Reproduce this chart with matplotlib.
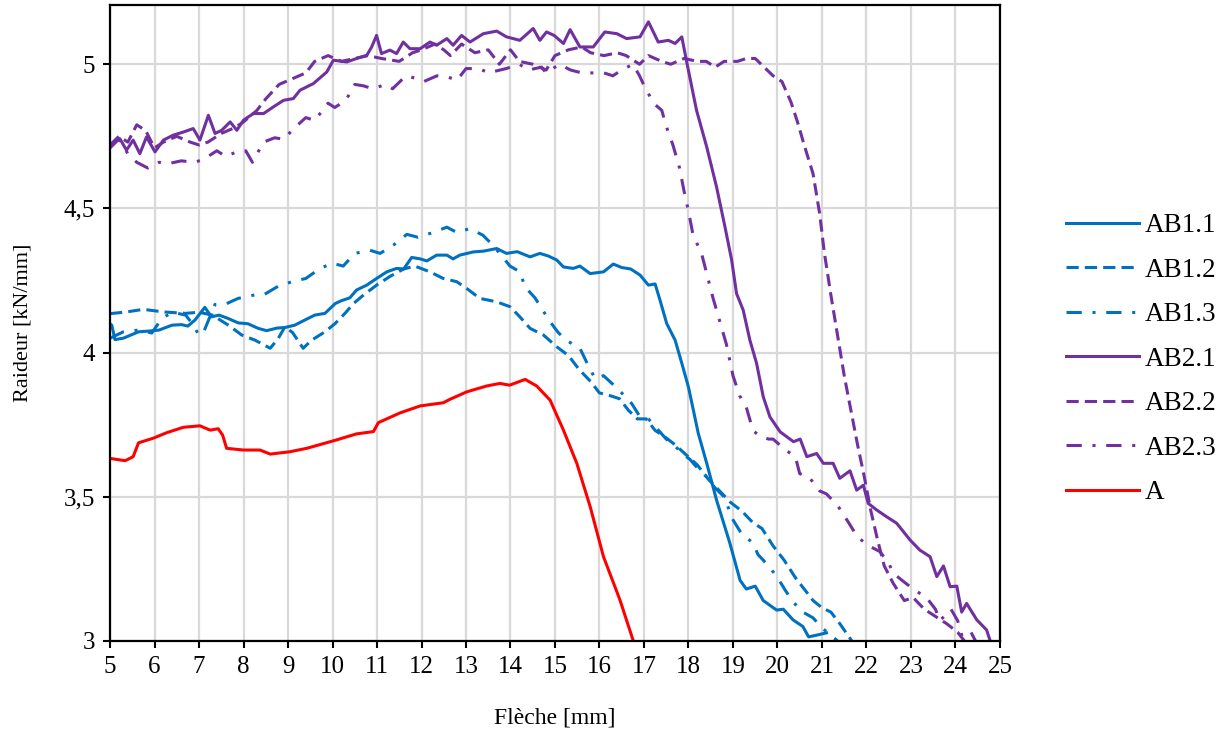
import numpy as np
import matplotlib
matplotlib.use("Agg")
import matplotlib.pyplot as plt
from matplotlib.ticker import FuncFormatter, MultipleLocator

plt.rcParams['font.family'] = ['Liberation Serif', 'DejaVu Serif']

## data (fleche [mm], raideur [kN/mm])
ab11 = [(5.0, 4.10), (5.04, 4.095), (5.11, 4.045), (5.3, 4.05), (5.64, 4.072), (5.9, 4.075),
        (6.1, 4.078), (6.39, 4.095), (6.6, 4.097), (6.75, 4.092), (6.91, 4.113), (7.13, 4.157),
        (7.28, 4.124), (7.45, 4.13), (7.66, 4.118), (7.88, 4.103), (8.1, 4.10), (8.33, 4.084),
        (8.52, 4.076), (8.75, 4.085), (8.93, 4.087), (9.15, 4.095), (9.38, 4.113), (9.6, 4.13),
        (9.83, 4.136), (10.06, 4.17), (10.2, 4.18), (10.39, 4.19), (10.54, 4.217), (10.77, 4.234),
        (10.99, 4.257), (11.22, 4.28), (11.44, 4.292), (11.6, 4.29), (11.78, 4.33), (11.97, 4.325),
        (12.12, 4.318), (12.34, 4.338), (12.57, 4.338), (12.71, 4.325), (12.86, 4.338), (13.16, 4.349),
        (13.4, 4.352), (13.69, 4.361), (13.91, 4.344), (14.15, 4.35), (14.44, 4.332), (14.66, 4.344),
        (14.85, 4.335), (15.04, 4.321), (15.19, 4.297), (15.41, 4.292), (15.56, 4.30), (15.79, 4.274),
        (16.09, 4.28), (16.31, 4.307), (16.5, 4.295), (16.7, 4.29), (16.91, 4.269), (17.1, 4.234),
        (17.25, 4.238), (17.36, 4.182), (17.51, 4.101), (17.7, 4.043), (17.85, 3.963), (18.0, 3.88),
        (18.11, 3.80), (18.22, 3.72), (18.41, 3.616), (18.63, 3.489), (18.93, 3.339), (19.16, 3.21),
        (19.3, 3.18), (19.5, 3.19), (19.68, 3.14), (19.98, 3.107), (20.13, 3.11), (20.35, 3.073),
        (20.57, 3.05), (20.7, 3.014), (20.88, 3.02), (21.1, 3.028)]

ab12 = [(5.0, 4.135), (5.37, 4.141), (5.75, 4.15), (6.2, 4.141), (6.7, 4.136), (7.0, 4.14),
        (7.3, 4.13), (7.66, 4.095), (7.96, 4.061), (8.26, 4.043), (8.6, 4.015), (8.78, 4.049),
        (8.93, 4.089), (9.1, 4.07), (9.34, 4.015), (9.53, 4.043), (9.83, 4.072), (10.06, 4.101),
        (10.28, 4.136), (10.47, 4.17), (10.7, 4.20), (11.0, 4.235), (11.3, 4.265), (11.6, 4.29),
        (11.85, 4.30), (12.19, 4.28), (12.49, 4.257), (12.79, 4.246), (13.02, 4.222), (13.31, 4.188),
        (13.69, 4.176), (13.99, 4.159), (14.21, 4.124), (14.44, 4.084), (14.74, 4.061), (15.04, 4.02),
        (15.3, 3.99), (15.55, 3.94), (15.8, 3.90), (16.0, 3.86), (16.25, 3.85), (16.45, 3.84),
        (16.65, 3.80), (16.85, 3.77), (17.05, 3.77), (17.25, 3.73), (17.45, 3.71), (17.7, 3.68),
        (17.95, 3.645), (18.2, 3.61), (18.45, 3.56), (18.7, 3.52), (18.95, 3.48), (19.2, 3.45),
        (19.45, 3.41), (19.65, 3.39), (19.9, 3.33), (20.15, 3.28), (20.4, 3.22), (20.6, 3.18),
        (20.8, 3.14), (21.0, 3.115), (21.2, 3.10), (21.4, 3.06), (21.67, 3.0)]

ab13 = [(5.0, 4.05), (5.3, 4.072), (5.64, 4.078), (5.94, 4.068), (6.16, 4.118), (6.4, 4.14),
        (6.7, 4.13), (6.85, 4.10), (7.0, 4.06), (7.1, 4.07), (7.36, 4.167), (7.58, 4.167),
        (7.88, 4.188), (8.25, 4.20), (8.45, 4.20), (8.82, 4.234), (9.2, 4.25), (9.4, 4.257),
        (9.72, 4.292), (10.0, 4.31), (10.24, 4.30), (10.5, 4.344), (10.84, 4.355), (11.07, 4.344),
        (11.37, 4.373), (11.67, 4.41), (11.92, 4.40), (12.27, 4.417), (12.57, 4.435), (12.79, 4.417),
        (13.09, 4.43), (13.38, 4.407), (13.6, 4.373), (13.99, 4.30), (14.21, 4.28), (14.33, 4.227),
        (14.55, 4.19), (14.7, 4.153), (14.89, 4.107), (15.07, 4.07), (15.25, 4.043), (15.56, 4.015),
        (15.7, 3.97), (15.9, 3.91), (16.09, 3.92), (16.3, 3.89), (16.5, 3.86), (16.72, 3.824),
        (16.9, 3.78), (17.1, 3.77), (17.3, 3.735), (17.5, 3.70), (17.7, 3.675), (17.9, 3.645),
        (18.03, 3.63), (18.2, 3.60), (18.4, 3.57), (18.6, 3.53), (18.8, 3.50), (19.0, 3.42),
        (19.2, 3.37), (19.45, 3.34), (19.56, 3.30), (19.8, 3.26), (20.0, 3.22), (20.17, 3.177),
        (20.35, 3.135), (20.57, 3.10), (20.8, 3.08), (21.0, 3.045), (21.2, 3.02), (21.35, 3.0)]

ab21 = [(5.04, 4.725), (5.22, 4.742), (5.37, 4.702), (5.52, 4.737), (5.67, 4.690), (5.82, 4.748),
        (6.01, 4.696), (6.20, 4.737), (6.42, 4.754), (6.65, 4.765), (6.87, 4.777), (7.02, 4.737),
        (7.21, 4.823), (7.36, 4.760), (7.51, 4.771), (7.70, 4.800), (7.85, 4.771), (8.0, 4.806),
        (8.22, 4.829), (8.45, 4.829), (8.67, 4.852), (8.90, 4.875), (9.12, 4.881), (9.27, 4.910),
        (9.57, 4.933), (9.87, 4.973), (10.02, 5.014), (10.32, 5.008), (10.54, 5.020), (10.77, 5.031),
        (10.88, 5.060), (10.99, 5.100), (11.10, 5.037), (11.29, 5.049), (11.44, 5.037), (11.59, 5.077),
        (11.74, 5.054), (11.97, 5.054), (12.19, 5.077), (12.34, 5.066), (12.57, 5.089), (12.71, 5.066),
        (12.90, 5.100), (13.09, 5.077), (13.39, 5.106), (13.69, 5.115), (13.91, 5.095), (14.21, 5.083),
        (14.51, 5.124), (14.66, 5.083), (14.81, 5.112), (14.98, 5.10), (15.19, 5.072), (15.34, 5.12),
        (15.56, 5.06), (15.86, 5.06), (16.12, 5.112), (16.39, 5.106), (16.61, 5.089), (16.91, 5.095),
        (17.10, 5.147), (17.32, 5.077), (17.55, 5.083), (17.70, 5.072), (17.85, 5.095), (17.96, 5.008),
        (18.18, 4.841), (18.41, 4.713), (18.63, 4.575), (18.82, 4.436), (18.97, 4.321), (19.08, 4.205),
        (19.23, 4.147), (19.38, 4.043), (19.53, 3.963), (19.68, 3.847), (19.83, 3.777), (20.06, 3.725),
        (20.21, 3.708), (20.36, 3.691), (20.51, 3.70), (20.66, 3.639), (20.88, 3.65), (21.03, 3.616),
        (21.25, 3.616), (21.4, 3.564), (21.63, 3.59), (21.78, 3.523), (21.93, 3.54), (22.04, 3.477),
        (22.23, 3.454), (22.45, 3.431), (22.68, 3.408), (22.98, 3.35), (23.2, 3.315), (23.43, 3.292),
        (23.58, 3.223), (23.73, 3.26), (23.88, 3.188), (24.03, 3.19), (24.14, 3.10), (24.25, 3.13),
        (24.48, 3.073), (24.70, 3.038), (24.78, 3.0)]

ab22 = [(5.0, 4.72), (5.2, 4.75), (5.4, 4.73), (5.6, 4.79), (5.8, 4.77), (6.0, 4.71), (6.2, 4.73),
        (6.5, 4.75), (6.8, 4.73), (7.0, 4.72), (7.2, 4.73), (7.5, 4.76), (7.8, 4.78), (8.0, 4.80),
        (8.3, 4.84), (8.5, 4.88), (8.8, 4.93), (9.1, 4.95), (9.4, 4.97), (9.6, 5.01), (9.9, 5.03),
        (10.2, 5.01), (10.5, 5.02), (10.8, 5.03), (11.1, 5.02), (11.5, 5.01), (11.8, 5.04), (12.0, 5.05),
        (12.3, 5.07), (12.5, 5.05), (12.65, 5.03), (12.9, 5.07), (13.2, 5.04), (13.5, 5.05), (13.75, 5.00),
        (14.0, 5.05), (14.2, 5.01), (14.5, 5.00), (14.8, 4.98), (15.0, 5.03), (15.3, 5.05), (15.6, 5.06),
        (15.8, 5.04), (16.1, 5.03), (16.4, 5.04), (16.6, 5.03), (16.9, 5.00), (17.1, 5.03), (17.4, 5.01),
        (17.6, 5.00), (17.9, 5.02), (18.2, 5.01), (18.4, 5.01), (18.6, 4.99), (18.8, 5.01), (19.1, 5.01),
        (19.3, 5.02), (19.5, 5.02), (19.7, 4.99), (19.9, 4.96), (20.1, 4.94), (20.3, 4.87), (20.45, 4.80),
        (20.6, 4.72), (20.8, 4.62), (20.95, 4.48), (21.05, 4.35), (21.2, 4.20), (21.35, 4.06), (21.5, 3.92),
        (21.65, 3.80), (21.8, 3.68), (21.95, 3.57), (22.1, 3.45), (22.25, 3.35), (22.4, 3.26), (22.6, 3.20),
        (22.85, 3.14), (23.05, 3.15), (23.3, 3.11), (23.6, 3.08), (23.8, 3.06), (24.05, 3.03), (24.2, 3.0)]

ab23 = [(5.0, 4.71), (5.2, 4.74), (5.4, 4.69), (5.6, 4.66), (5.85, 4.64), (6.1, 4.66), (6.3, 4.655),
        (6.6, 4.665), (6.9, 4.66), (7.1, 4.67), (7.4, 4.70), (7.6, 4.68), (7.9, 4.70), (8.05, 4.70),
        (8.2, 4.66), (8.45, 4.73), (8.7, 4.745), (8.9, 4.74), (9.15, 4.78), (9.4, 4.815), (9.6, 4.805),
        (9.9, 4.865), (10.05, 4.85), (10.3, 4.875), (10.5, 4.93), (10.7, 4.925), (10.9, 4.915),
        (11.2, 4.93), (11.35, 4.915), (11.65, 4.96), (11.9, 4.95), (12.05, 4.94), (12.35, 4.96),
        (12.6, 4.955), (12.8, 4.945), (13.0, 4.985), (13.3, 4.985), (13.5, 4.97), (13.9, 4.985),
        (14.2, 5.0), (14.4, 4.98), (14.7, 4.99), (14.8, 4.97), (15.1, 5.0), (15.35, 4.98), (15.6, 4.97),
        (15.85, 4.97), (16.1, 4.97), (16.3, 4.96), (16.5, 4.98), (16.75, 5.0), (16.9, 4.96), (17.05, 4.91),
        (17.25, 4.86), (17.4, 4.84), (17.5, 4.785), (17.65, 4.72), (17.8, 4.64), (17.9, 4.56), (18.0, 4.49),
        (18.1, 4.41), (18.3, 4.34), (18.45, 4.25), (18.55, 4.19), (18.7, 4.11), (18.85, 4.03), (19.0, 3.92),
        (19.15, 3.85), (19.3, 3.81), (19.45, 3.73), (19.6, 3.71), (19.8, 3.70), (19.9, 3.70), (20.2, 3.66),
        (20.4, 3.64), (20.5, 3.58), (20.7, 3.57), (20.95, 3.52), (21.1, 3.51), (21.35, 3.47), (21.6, 3.41),
        (21.8, 3.36), (22.05, 3.33), (22.3, 3.31), (22.5, 3.27), (22.6, 3.235), (22.8, 3.21), (23.05, 3.18),
        (23.35, 3.15), (23.55, 3.11), (23.65, 3.07), (23.9, 3.11), (24.05, 3.07), (24.15, 3.015),
        (24.35, 3.03), (24.45, 3.0)]

a_ref = [(5.0, 3.633), (5.34, 3.625), (5.52, 3.639), (5.64, 3.687), (5.97, 3.703), (6.27, 3.722),
         (6.65, 3.741), (7.02, 3.746), (7.25, 3.731), (7.43, 3.736), (7.53, 3.714), (7.62, 3.668),
         (8.0, 3.662), (8.37, 3.662), (8.6, 3.648), (9.04, 3.656), (9.42, 3.668), (10.02, 3.694),
         (10.54, 3.718), (10.92, 3.726), (11.03, 3.757), (11.52, 3.791), (11.97, 3.815), (12.49, 3.826),
         (12.64, 3.838), (13.02, 3.864), (13.46, 3.884), (13.76, 3.893), (13.98, 3.887), (14.33, 3.907),
         (14.59, 3.884), (14.89, 3.835), (15.19, 3.731), (15.49, 3.616), (15.79, 3.466), (16.09, 3.292),
         (16.46, 3.142), (16.76, 3.0)]

labels = ['AB1.1', 'AB1.2', 'AB1.3', 'AB2.1', 'AB2.2', 'AB2.3', 'A']

blue = '#0070C0'
purple = '#7030A0'
red = '#FF0000'
dash = (0, (4, 2))
dashdot = (0, (5, 3.5, 1, 3.5))

series = [(ab11, blue, '-'), (ab12, blue, dash), (ab13, blue, dashdot),
          (ab21, purple, '-'), (ab22, purple, dash), (ab23, purple, dashdot),
          (a_ref, red, '-')]

fig = plt.figure(figsize=(12.28, 7.35), dpi=100)
ax = fig.add_axes([0.0896, 0.128, 0.7247, 0.865])

for (pts, col, ls), lab in zip(series, labels):
    arr = np.array(pts)
    ax.plot(arr[:, 0], arr[:, 1], color=col, linestyle=ls, lw=2.2, label=lab)

ax.set_xlim(5, 25)
ax.set_ylim(3, 5.205)
ax.xaxis.set_major_locator(MultipleLocator(1))
ax.set_yticks([3, 3.5, 4, 4.5, 5])
ax.yaxis.set_major_formatter(FuncFormatter(lambda v, p: ('%g' % v).replace('.', ',')))
ax.grid(True, color='#D9D9D9', lw=1.6)
ax.set_axisbelow(True)
for s in ax.spines.values():
    s.set_linewidth(1.6)
    s.set_color('black')
ax.tick_params(direction='out', length=5, width=1.5, labelsize=18, pad=6)

ax.set_xlabel('Flèche [mm]', fontsize=17, labelpad=21)
ax.set_ylabel('Raideur [kN/mm]', fontsize=16, labelpad=22)

ax.legend(loc='center left', bbox_to_anchor=(0.857, 0.511), bbox_transform=fig.transFigure,
          frameon=False, fontsize=19.5, handlelength=2.7, handletextpad=0.2,
          labelspacing=0.72, borderpad=0)

fig.savefig('out.png', dpi=100)
